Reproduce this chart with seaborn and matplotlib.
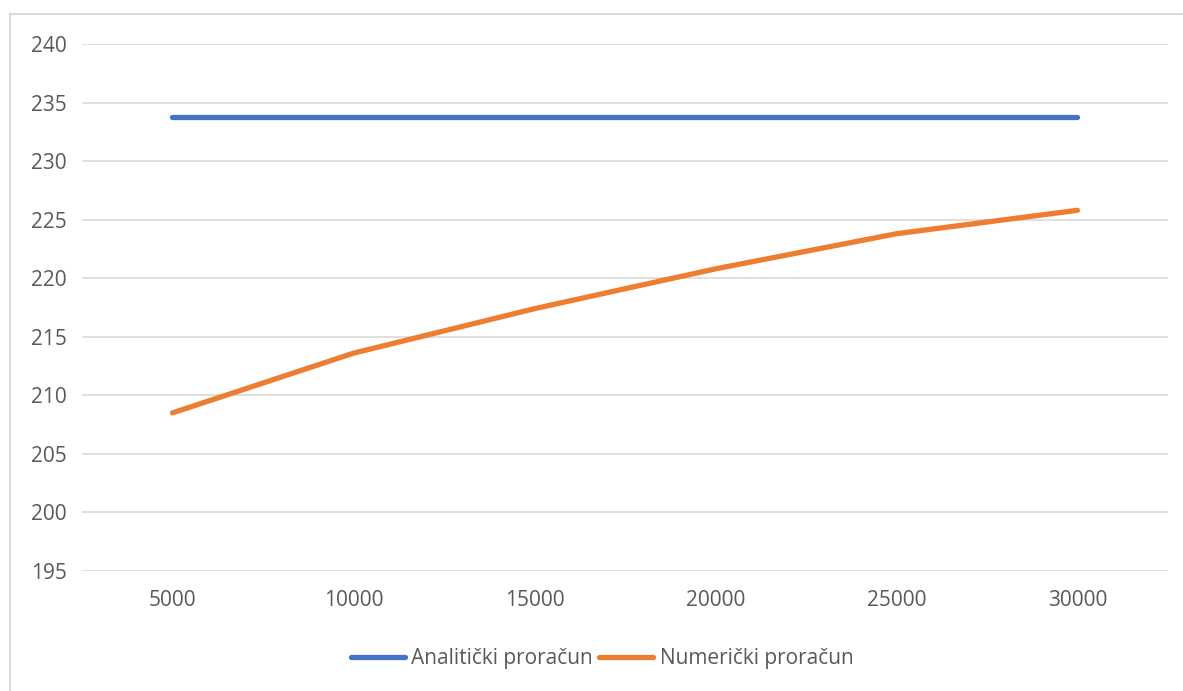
import matplotlib
matplotlib.use('Agg')
import matplotlib.pyplot as plt
import seaborn as sns
import pandas as pd
import numpy as np
from matplotlib.patches import Rectangle

iterations = [5000, 10000, 15000, 20000, 25000, 30000]
analiticki = [233.8, 233.8, 233.8, 233.8, 233.8, 233.8]
numericki = [208.5, 213.6, 217.4, 220.8, 223.8, 225.8]

series_names = ['Analitički proračun', 'Numerički proračun']
colors = ['#4472C4', '#ED7D31']

df = pd.DataFrame({
    'pos': list(range(len(iterations))) * 2,
    'value': analiticki + numericki,
    'series': [series_names[0]] * len(iterations) + [series_names[1]] * len(iterations),
})

sns.set_style('white')
plt.rcParams['font.family'] = ['Open Sans', 'DejaVu Sans']
text_color = '#595959'

fig = plt.figure(figsize=(11.83, 6.91), dpi=100)
ax = fig.add_axes([0.0693, 0.1737, 0.9180, 0.7626])

sns.lineplot(data=df, x='pos', y='value', hue='series', palette=colors,
             linewidth=3.8, ax=ax, legend=False, solid_capstyle='round')

ax.set_xlim(-0.5, len(iterations) - 0.5)
ax.set_ylim(195, 240)
ax.set_yticks(np.arange(195, 241, 5))
ax.set_xticks(range(len(iterations)))
ax.set_xticklabels([str(v) for v in iterations])
ax.yaxis.grid(True, color='#d9d9d9', linewidth=1.2)
ax.set_axisbelow(True)
for s in ax.spines.values():
    s.set_visible(False)
ax.tick_params(axis='both', length=0, labelsize=15, colors=text_color)
ax.tick_params(axis='y', pad=11)
ax.tick_params(axis='x', pad=14)
ax.set_xlabel('')
ax.set_ylabel('')

handles = [plt.Line2D([], [], color=c, linewidth=3.8, solid_capstyle='round') for c in colors]
fig.legend(handles, series_names, loc='center', bbox_to_anchor=(0.509, 0.047), ncol=2,
           frameon=False, fontsize=15, labelcolor=text_color, handlelength=2.6,
           handletextpad=0.3, columnspacing=0.3)

fig.patches.append(Rectangle((10 / 1183, -0.1), 1.2, 1 - 14 / 691 + 0.1, transform=fig.transFigure,
                             fill=False, edgecolor='#d9d9d9', linewidth=1.5))

fig.savefig('out.png', dpi=100)
